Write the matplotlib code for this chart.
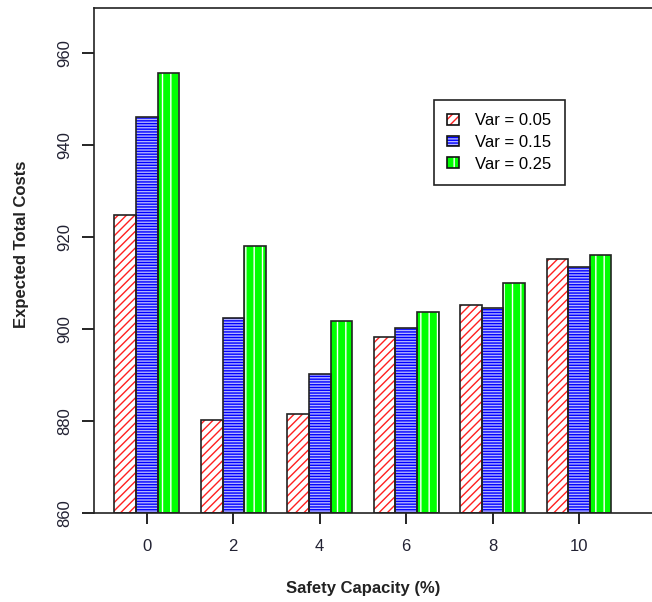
import numpy as np
import matplotlib as mpl
mpl.use('Agg')
import matplotlib.pyplot as plt
from matplotlib.legend_handler import HandlerTuple

# safety capacity levels (%) and expected total costs for each variance
capacity = [0, 2, 4, 6, 8, 10]
var_labels = ['Var = 0.05', 'Var = 0.15', 'Var = 0.25']
cost_005 = [924.8, 880.2, 881.5, 898.3, 905.2, 915.3]
cost_015 = [946.1, 902.4, 890.2, 900.2, 904.6, 913.4]
cost_025 = [955.7, 918.0, 901.7, 903.6, 909.9, 916.2]

plt.rcParams['font.family'] = ['Liberation Sans', 'DejaVu Sans']
plt.rcParams['hatch.linewidth'] = 1.0

W, H = 652, 602
fig = plt.figure(figsize=(W / 100, H / 100), dpi=100)
ax = fig.add_axes([94 / W, 1 - 513 / H, (658 - 94) / W, (513 - 8) / H])

x = np.array(capacity, dtype=float)
width = 0.5
# fill colour, hatch colour, hatch pattern
styles = [('white', '#ff2020', '////'),
          ('#b4b4ff', '#0000ff', '------'),
          ('#00ff00', 'white', '||')]
series = [cost_005, cost_015, cost_025]

handles = []
for i, (vals, (fc, hc, hatch)) in enumerate(zip(series, styles)):
    pos = x + (i - 1) * width
    heights = np.array(vals) - 860
    ax.bar(pos, heights, width, bottom=860, color=fc, edgecolor=hc,
           hatch=hatch, linewidth=0, zorder=2)
    ax.bar(pos, heights, width, bottom=860, facecolor='none',
           edgecolor='#222222', linewidth=1.2, zorder=3)
    fill = mpl.patches.Patch(facecolor=fc, edgecolor=hc, hatch=hatch, linewidth=0)
    edge = mpl.patches.Patch(facecolor='none', edgecolor='#111111', linewidth=1.2)
    handles.append((fill, edge))

ax.set_ylim(860, 969.8)
ax.set_xlim(-1.224, (658 - 147) / 43.2)
ax.set_xticks(capacity)
ax.set_yticks([860, 880, 900, 920, 940, 960])
ax.tick_params(axis='x', length=8, width=1.2, pad=11, labelsize=12,
               labelcolor='#222233')
ax.tick_params(axis='y', length=8.6, width=1.2, pad=7, labelsize=12,
               labelcolor='#222233', labelrotation=90)
for lab in ax.get_yticklabels():
    lab.set_verticalalignment('center')
for sp in ax.spines.values():
    sp.set_linewidth(1.2)
    sp.set_color('#222222')

fig.text(363 / W, 1 - 588 / H, 'Safety Capacity (%)', ha='center', va='center',
         fontsize=12, fontweight='bold', color='#222222')
fig.text(22 / W, 1 - 244 / H, 'Expected Total Costs', ha='center', va='center',
         rotation=90, fontsize=12, fontweight='bold', color='#222222')

leg = ax.legend(handles, var_labels, loc='upper left',
                handler_map={tuple: HandlerTuple(ndivide=1)},
                bbox_to_anchor=(434 / W, 1 - 100 / H), bbox_transform=fig.transFigure,
                borderaxespad=0, fancybox=False, framealpha=1, fontsize=12,
                handlelength=0.68, handleheight=0.6, handletextpad=1.0,
                labelspacing=0.4, borderpad=0.8)
leg.get_frame().set_edgecolor('#222222')
leg.get_frame().set_linewidth(1.2)

fig.savefig('out.png', dpi=100)
